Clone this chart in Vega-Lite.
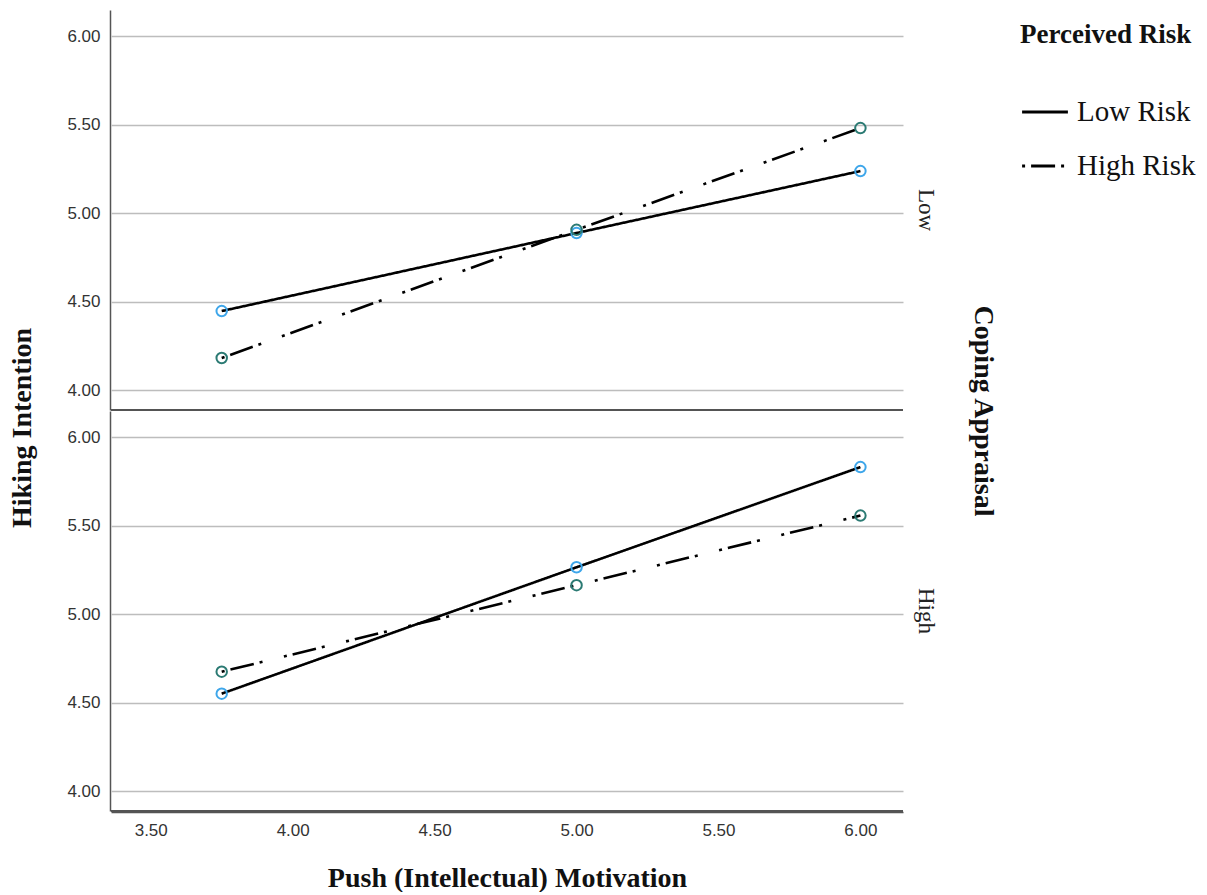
{
  "$schema": "https://vega.github.io/schema/vega-lite/v6.json",
  "padding": {"left": 8, "top": 10, "right": 0, "bottom": 0},
  "background": "white",
  "title": {
    "text": "Hiking Intention", "orient": "left", "anchor": "middle",
    "font": "Liberation Serif", "fontSize": 28, "fontWeight": "bold", "color": "#111",
    "offset": 30, "dx": 23
  },
  "data": {"values": [
    {"coping": "Low", "risk": "Low Risk", "push": 3.75, "intention": 4.446},
    {"coping": "Low", "risk": "Low Risk", "push": 5.0, "intention": 4.887},
    {"coping": "Low", "risk": "Low Risk", "push": 6.0, "intention": 5.237},
    {"coping": "Low", "risk": "High Risk", "push": 3.75, "intention": 4.181},
    {"coping": "Low", "risk": "High Risk", "push": 5.0, "intention": 4.905},
    {"coping": "Low", "risk": "High Risk", "push": 6.0, "intention": 5.48},
    {"coping": "High", "risk": "Low Risk", "push": 3.75, "intention": 4.55},
    {"coping": "High", "risk": "Low Risk", "push": 5.0, "intention": 5.264},
    {"coping": "High", "risk": "Low Risk", "push": 6.0, "intention": 5.83},
    {"coping": "High", "risk": "High Risk", "push": 3.75, "intention": 4.674},
    {"coping": "High", "risk": "High Risk", "push": 5.0, "intention": 5.163},
    {"coping": "High", "risk": "High Risk", "push": 6.0, "intention": 5.556}
  ]},
  "facet": {
    "row": {
      "field": "coping", "type": "nominal", "sort": ["Low", "High"],
      "title": "Coping Appraisal",
      "header": {
        "labelOrient": "right", "titleOrient": "right",
        "labelAngle": 90, "titleAngle": 90,
        "labelFont": "Liberation Serif", "labelFontSize": 23, "labelColor": "#222",
        "labelPadding": 10,
        "titleFont": "Liberation Serif", "titleFontSize": 28, "titleFontWeight": "bold", "titleColor": "#111",
        "titlePadding": 22
      }
    }
  },
  "spacing": 0,
  "spec": {
    "width": 792,
    "height": 400,
    "encoding": {
      "x": {
        "field": "push", "type": "quantitative",
        "scale": {"domain": [3.36, 6.15], "nice": false, "zero": false},
        "axis": {"values": [3.5, 4, 4.5, 5, 5.5, 6], "format": ".2f", "title": "Push (Intellectual) Motivation", "grid": false, "titlePadding": 26}
      },
      "y": {
        "field": "intention", "type": "quantitative",
        "scale": {"domain": [3.887, 6.147], "nice": false, "zero": false},
        "axis": {"values": [4, 4.5, 5, 5.5, 6], "format": ".2f", "title": null, "grid": true}
      }
    },
    "layer": [
      {
        "mark": {"type": "rule", "color": "#555", "strokeWidth": 1.5},
        "encoding": {"y": {"datum": 3.887}, "x": {"datum": 3.36}, "x2": {"datum": 6.15}}
      },
      {
        "mark": {"type": "line", "color": "black", "strokeWidth": 2.6},
        "encoding": {
          "detail": {"field": "risk"},
          "strokeDash": {
            "field": "risk", "type": "nominal",
            "scale": {"domain": ["Low Risk", "High Risk"], "range": [[1, 0], [3, 6, 24, 6, 3, 22]]},
            "legend": {
              "title": "Perceived Risk",
              "orient": "none", "legendX": 909, "legendY": 12,
              "symbolType": "stroke", "symbolSize": 2100, "symbolStrokeWidth": 3.2,
              "symbolStrokeColor": "black",
              "labelFont": "Liberation Serif", "labelFontSize": 29, "labelColor": "#111",
              "titleFont": "Liberation Serif", "titleFontSize": 27, "titleFontWeight": "bold", "titleColor": "#111",
              "titlePadding": 38, "rowPadding": 14, "labelOffset": 7
            }
          }
        }
      },
      {
        "mark": {"type": "point", "shape": "circle", "filled": false, "size": 110, "strokeWidth": 2, "opacity": 1},
        "encoding": {
          "stroke": {
            "condition": {"test": "datum.risk === 'Low Risk'", "value": "#3ea6ea"},
            "value": "#2b7a73"
          }
        }
      }
    ]
  },
  "config": {
    "view": {"stroke": null},
    "axis": {
      "labelFont": "Liberation Sans", "labelFontSize": 17, "labelColor": "#333",
      "titleFont": "Liberation Serif", "titleFontSize": 28, "titleFontWeight": "bold", "titleColor": "#111",
      "ticks": false, "labelPadding": 10,
      "domainColor": "#555", "domainWidth": 1.5,
      "gridColor": "#bdbdbd", "gridWidth": 1.5
    },
    "axisX": {"labelPadding": 10}
  }
}
